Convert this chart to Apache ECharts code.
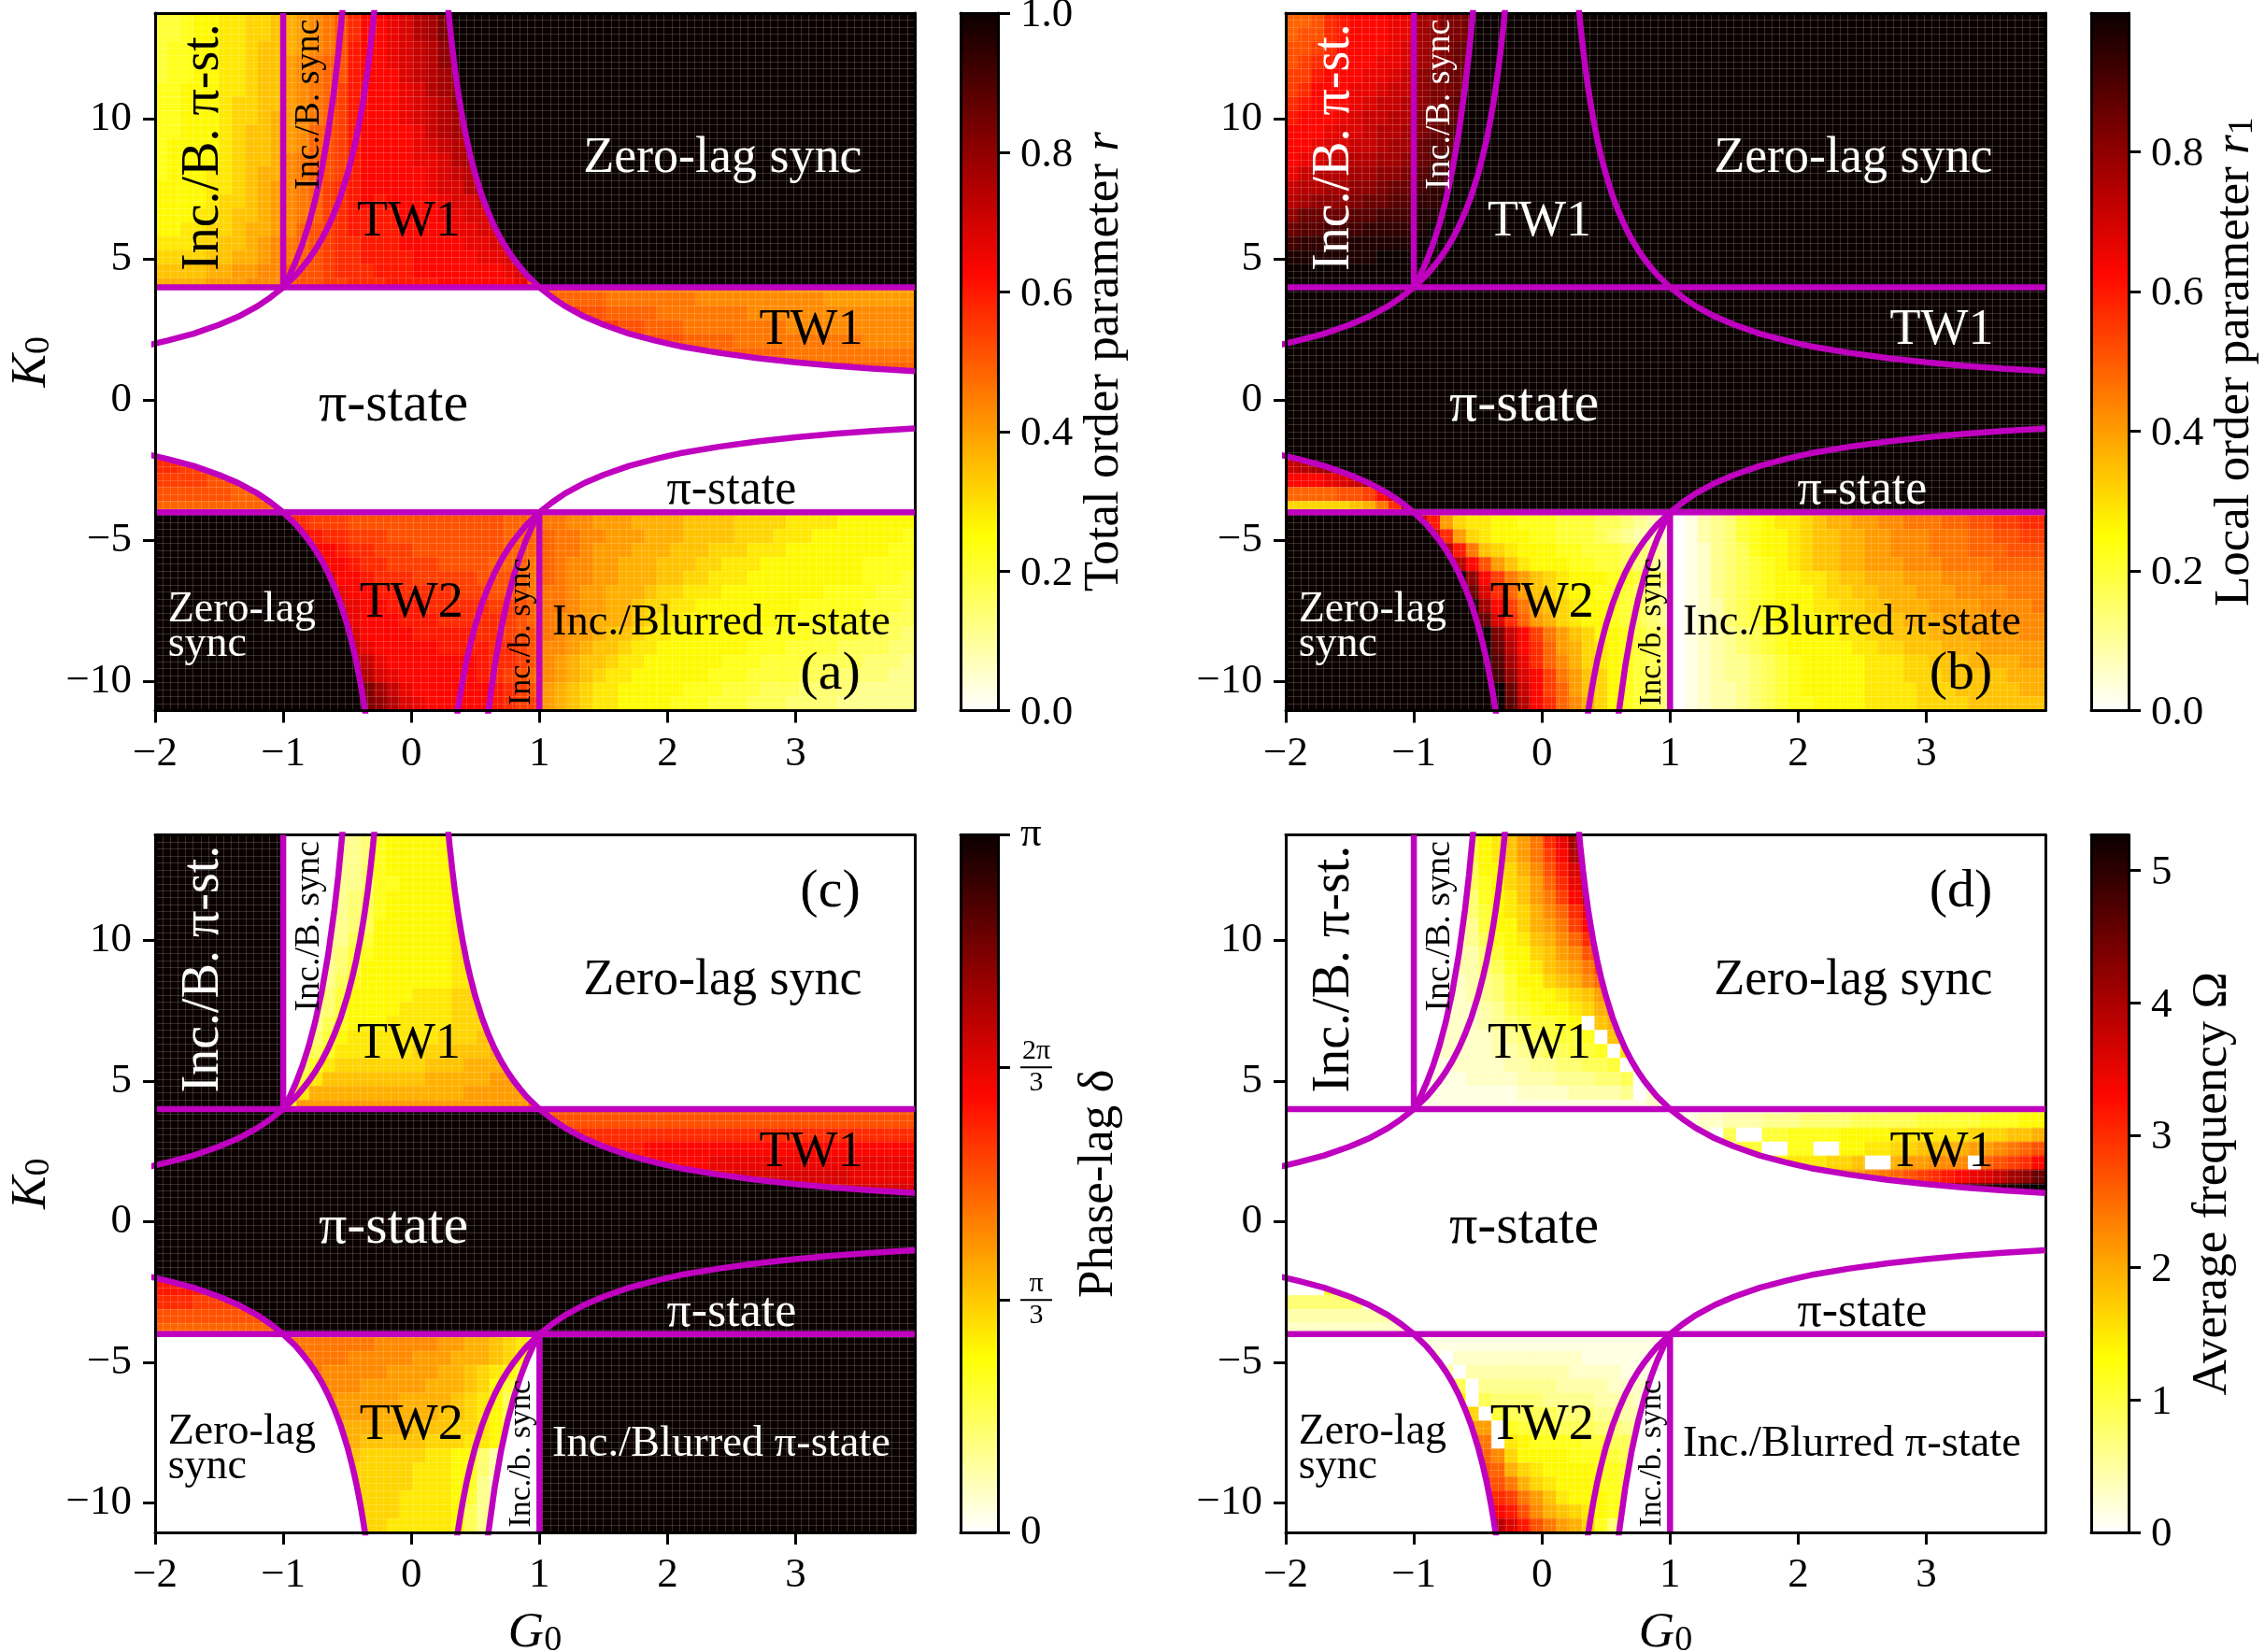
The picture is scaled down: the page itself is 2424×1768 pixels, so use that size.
<!DOCTYPE html>
<html>
<head>
<meta charset="utf-8">
<title>Order parameters</title>
<script src="https://cdn.jsdelivr.net/npm/echarts@6/dist/echarts.min.js"></script>
<style>
html,body{margin:0;padding:0;background:#fff;}
#main{width:2424px;height:1768px;}
</style>
</head>
<body>
<div id="main"></div>
<script>
// axis range and ticks
var gMin=-2,gMax=3.93,kMin=-11.05,kMax=13.75;
var gTicks=[-2,-1,0,1,2,3];
var kTicks=[-10,-5,0,5,10];
var nCols=59,nRows=50;

// phase boundaries
var hyperG=[0.28,0.291,0.3,0.32,0.34,0.362,0.38,0.4,0.43,0.46,0.5,0.55,0.6,0.65,0.7,0.75,0.8,0.85,0.9,1,1.1,1.2,1.35,1.5,1.7,1.9,2,2.1,2.4,2.7,3,3.3,3.6,3.93];
var hyperK=[14.29,13.75,13.33,12.5,11.76,11.05,10.53,10,9.3,8.7,8,7.27,6.67,6.15,5.71,5.33,5,4.71,4.44,4,3.64,3.33,2.96,2.67,2.35,2.11,2,1.9,1.67,1.48,1.33,1.21,1.11,1.02];
var steepG=[0.53,0.54,0.57,0.6,0.65,0.7,0.75,0.8,0.85,0.9,0.95,1];
var steepK=[14.24,13.72,12.31,11.11,9.47,8.16,7.11,6.25,5.54,4.94,4.43,4];

// cell levels, one char per cell: 0-9a-z = 0..35 of the colour scale, '.' = no cell
// panel (a) total order parameter
var topA=[
"77899aabbcdefgikmmnoqrtuuuuuu",
"77899aabbcdefgikmmnoqrtuuuuuu",
"78899aabccdefgilmmnopqstuuuuu",
"78899aabccefghilmmnopqstuuuuu",
"78899aabccefghilmmmopqrtuuuuu",
"88999aabccefghjlmmmnoqrsuuuuu",
"88999abbccefghjlmmmnopqstuuuu",
"88999abbcdefghjlmmmnopqrtuuuu",
"88999abccdefhijlmmmmnpqrsuuuu",
"89999abccdefhijlmmmmnopqrtuuu",
"89999abccdfghijlmmmmnnoqrsuuu",
"8999aabcddfghijlmmmmmnopqrtuu",
"9999aabcdefghjklmmmmmnooqrsuu",
"9999abbcdefghjklmlmmmmnoopqrt",
"999aabccdefghjkllllmmmnnoopqs",
"99aabbcddefhijkllllmmmmnnooqr",
"aaabbccdefghijkklllmmmmmnnopq",
"bbbbccddefghijkkllllmmmmmnnop",
"ccccddeeffhiijkkklllmmmmmmmno",
"ddddeeefffhiijjkkkllllmmmmmmn"];
var rightA=[
"hhhhggggggffffffffffeeeeeeeeee",
"ihhhhhgggggggffffffffffeeeeeee",
"lkkjiihhhhgggggggfffffffffffff",
"mmllkjjiihhhggggggggffffffffff",
"nmmmllkkjiiihhhhggggggggggffff",
"onmmmmmllkkjiiihhhhhgggggggggg",
"mmmmmmmmmmmmllllkkkjjiiiihhhhh"];
var leftA=["kkkkkkkkkk","kkjjjjjjii","jjjjiiiiii","iiiiiihhhh","hhhhhhhhhg"];
var bottomA=[
"kkkjjjiiiiiiiiiiiihhhggffeeeddddccccbbbbaaaa999999",
"mmmlkkjjjiiiiiiiiihhhhggffeeedddccccbbbaaa99999998",
"mmmmmlkkjjjiiiiiiihhhhggfeeedddcccbbbaaa9999999988",
"ooommmlkkjjjjiiiihhhghgffeedddcccbbaaa999999998888",
"pppoommlkkkjjjjjiiihghgffeedddccbbaaa9999999998887",
"qqqppnmmllkkkkjjjiihgggfeedddcbbaaa999999998888777",
"rrrqqonmmlllkkkkkjjihggfeeddcbbaa99999999888887776",
"sssrqpnmmmlllkkkkkjihgffedddcbaa999999998888877766",
"ttsrrqommmmlllllkkjiigfeedccbaa9999999888877776665",
"uuttsqpnmmmmmllllkkjiffedccbaa99999998887777666655",
"vvuutsqpnmmmmmmmlkkjifedccbaa999999888777766665554",
"wwvvutsqonmmmmmmlkjihfedcbaa9999998887777666555544",
"xxwwvuttrpnmmmmmmlkjiedcbaa99999888777666555544444",
"yyxxwvutsqonmmmmmlkjjedcbaa99998887776665555444444"];

// panel (b) local order parameter
var topB=[
"hhiklmmmnnrrttu.",
"hiiklmmmnnrsttu.",
"iijkmmmmnorstuu.",
"ijklmmmnnorstuu.",
"jjlmmmnnopstuuv.",
"jkmmmnnoppsttuv.",
"klmmmnoppqstuvw.",
"lmmmnoppqqtuuvw.",
"mmmnoopqqrtuvww.",
"mmnooppqrruvvwx.",
"mnoppqqrrsuvwxx.",
"npqqqrrsstvwwxy.",
"pqqrrsstuuwxxyy.",
"qrssstuuvvxxyyz.",
"suuuuvvwwwyyyzz.",
"uvvwwwxxxxyzzzz.",
"wxxxxyyyyyzzzzz.",
"yyyyyyyzzzzzzzz.",
"zzzzzzzzzzzzzzz.",
"zzzzzzzzzzzzzzz."];
var rightB=[];
var leftB=["zzzzzzzzzz","pqrstuvxyz","mmmnoprtvy","hhhhiijmpt","bbbbbcdgkr"];
var bottomB=[
"zolebaa9988877766543201345789aabcddeeffggghhiijjkk",
"zzpkeba99988777654332013457899abccddeefffggghhiijj",
"zzzqlgcba999887776543012456899abccddeefffggghhhiii",
"zzzzqmieca9998877654301245678 9abccddeeefffgggghhh",
"zzzzzsmjgecba999887650124567899aabccdddeeefffggggg",
"zzzzzuokhecba99887654012456789 99abbccdddeeeffffggg",
"zzzzzzrmjgdcba998765401235678999aabbccdddeeeeffffg",
"zzzzzzuokhedba99876540123567899 99aabbccdddeeeeffff",
"zzzzzzztpmjgecb998765012345678 9999aabbcccdddeeeeff",
"zzzzzzzuqmkhedba987650123456789 9999aabbcccdddeeeee",
"zzzzzzzvrnkhfdba987650123445678 99999aaabbcccddddee",
"zzzzzzzwsomjgecb987650123445678 99999aaabbbcccccddd",
"zzzzzzzzupmjhecb987650123345678 99999aaaabbbcccccdd",
"zzzzzzzzvqmkhfdb987650123345678 89999aaaabbbbcccccc"].map(function(s){return s.replace(" ","");});

// panel (c) phase lag
var topC=[
"..........4444445899999aaaaaa",
"..........4444445899999aaaaaa",
"..........4444445899999aaaaaa",
"..........4444445889999aaaaaa",
"..........4444456899999aaaaaa",
"..........4444456899999aaaaaa",
"..........4444456999999aaaabb",
"..........4444467999999aaabbb",
"..........4444578999999aaabbb",
"..........4444579999999aaabbb",
"..........4444689999999aaabbb",
"..........4445799999aaabbbbbb",
"..........444579999aaaabbbbbb",
"..........44468999aaaaabbbccc",
"..........44579aaaaaaabbbcccc",
"..........4468aaaaaabbbcccddd",
"..........468abbbbbbbcccdddde",
"..........57accccccccdddddeee",
"..........6addddddddddddeeeee",
"..........8eeeeeeeeeeeeeeeeee"];
var rightC=[
"hhhhhhhhhhhhhhhhhhhhhhhhhhhhhh",
"iiiiiiiiiiiiiiiiiiiiiiiiiiiiii",
"kkkkkkkkkkkkkkkkkkkkkkkkkkkkkk",
"mmmmlllllmmmmmmmmmmmmmmmmmmmmm",
"nnnnnnmmmmmmmmnnnnnnnnnnnnnnnn",
"oooooooooooonnnnooooooooonnnnn",
"oooooooooooooooooooooooooooooo"];
var leftC=["mmmmmmmmmm","llllkkkkkk","kkkjjjjjjj","iiiiiiiiii","hhhhhhhhhh"];
var bottomC=[
"ggggggggfffffeeddcba9.",
"ggggggfffffeeedddcb98.",
"ggggfffffeeeeddcba977.",
"gggffffeeeeedddcb9766.",
"ggfffeeeeeddddcba9655.",
"gffeeeeedddddccba9644.",
"feeedddddddcccbba9533.",
"eedddddcccccbbbaa9533.",
"ddddcccbbbbbaa9953222.",
"dcccccbbbbbaaa9853222.",
"ccccccbbbbbaaa9842222.",
"cccccbbbbbaaaa9742222.",
"ccccbbbbbbaaaa9642222.",
"bbbbbbbbbaaaaa9642222."];

// panel (d) average frequency
var topD=[
"..........555579acegknrzzzzzz",
"..........555579acegjmqzzzzzz",
"..........5555699bdfilouzzzzz",
"..........5555689bcehkntwzzzz",
"..........5555589acegjmqvzzzz",
"..........4444579abdfhkntzzzz",
"..........44444799bdegjmrzzzz",
"..........33334689acdfhkpzzzz",
"..........333335799bcefinszzz",
"..........333335689acdegjmszz",
"..........2222345799bcdfhkqzz",
"..........22223457899abcehlzz",
"..........222223467899abdfjnz",
"..........22222345677890cdhzz",
"..........222222345677780cdzz",
"..........1222223345667780azz",
"..........11122223344556670bz",
"..........111122223334445560b",
"..........1111111122223333402",
"..........1111111111111111112"];
var rightD=[
"111112222233334444555566667788",
"111223334445555666667777788899",
"222206007788889999aaaaaabbbccd",
"4444447700880099aabbccddeefghi",
"9999999999aaabbc00deefff0hijkm",
"eeeeeeeeeeeeeeeefghijklmnoprsu",
"vvvvvvvvvvvvvvvvvvvvvvwwxxyyzz"];
var leftD=["cccccccccc","0008098888","5555550555","3333333333","2222222222"];
var bottomD=[
"111111111111111111111.",
"222022222222221111111.",
"333303333333322221111.",
"666660444444333322211.",
"999990655554444333221.",
"bbbbbb076666555443322.",
"eeeeeee08777666554332.",
"ggggggg0a988887766543.",
"hhhhhhhfb999988876532.",
"iiiiiiihdba9999887632.",
"jjjjjjjigdba999887532.",
"kkkkkkkkjgeca99987432.",
"mmmmmmmmlifdcba986322.",
"qqqqqqqqoligedb853222."];

// colour scale (white, yellow, red, black)
var hotR=['#ffffff','#ffff82','#ffff04','#ffae00','#ff5a00','#ff0700','#b20000','#5e0000','#0b0000'];
var BLACK='#0b0000',WHITE='#ffffff',LINE='#bf00bf',FONT='"Liberation Serif","Times New Roman",serif';

function pairs(xs,ys,sx,sy){
	var out=[];
	for(var i=0;i<xs.length;i++){out.push([sx*xs[i],sy*ys[i]]);}
	return out;
}
// part of a boundary between two |G| values, walked from a to b
function arc(xs,ys,sx,sy,a,b){
	var lo=Math.min(a,b),hi=Math.max(a,b),out=[];
	for(var i=0;i<xs.length;i++){
		if(xs[i]>=lo&&xs[i]<=hi){out.push([sx*xs[i],sy*ys[i]]);}
	}
	return a>b?out.reverse():out;
}
// regions of constant colour, bounded by the curves above
var zeroTop=[[gMax,4]].concat(arc(hyperG,hyperK,1,1,1,0.291),[[gMax,kMax]]);
var zeroBot=[[gMin,-4]].concat(arc(hyperG,hyperK,-1,-1,1,0.362),[[gMin,kMin]]);
var piMain=[[gMin,4]].concat(arc(hyperG,hyperK,1,1,1,3.93),[[gMax,-4]],arc(hyperG,hyperK,-1,-1,1,2));
var incTop=[[gMin,4],[-1,4],[-1,kMax],[gMin,kMax]];
var incBot=[[1,-4],[gMax,-4],[gMax,kMin],[1,kMin]];
var syncTop=arc(steepG,steepK,-1,1,1,0.53).concat([[-1,14.24]]);
var syncBot=arc(steepG,steepK,1,-1,1,0.53).concat([[1,-14.24]]);
var tw1Main=arc(steepG,steepK,-1,1,1,0.53).concat(arc(hyperG,hyperK,1,1,0.28,1));
var tw1Right=[[1,4],[gMax,4]].concat(arc(hyperG,hyperK,1,1,3.93,1));

// text inside the panels: text, G0, K0, size, rotation
var regionLabels=[
	['Inc./B. π-st.',-1.62,8.98,56,90],
	['Inc./B. sync',-0.8,10.5,38,90],
	['Zero-lag sync',2.43,8.56,54,0],
	['TW1',-0.02,6.3,54,0],
	['TW1',3.12,2.45,54,0],
	['π-state',-0.14,-0.22,60,0],
	['π-state',2.5,-3.25,52,0],
	['Zero-lag\nsync',-1.9,-8.1,46,0],
	['TW2',0,-7.25,54,0],
	['Inc./b. sync',0.86,-8.25,34,90],
	['Inc./Blurred π-state',2.42,-7.93,46.5,0]
];
var K='#000',W='#fff';
var panels=[
	{tag:'(a)',tagK:-9.77,left:166,top:14,max:1,cells:[topA,rightA,leftA,bottomA],
	 colors:[K,K,W,K,K,K,K,W,K,K,K],
	 regions:[[zeroTop,BLACK],[zeroBot,BLACK],[piMain,WHITE]],
	 ticks:[0,0.2,0.4,0.6,0.8,1],fmt:function(v){return v.toFixed(1);},
	 title:'Total order parameter {i|r}',titleGap:88,yName:true,xName:false},
	{tag:'(b)',tagK:-9.77,left:1376,top:14,max:0.999,cells:[topB,rightB,leftB,bottomB],
	 colors:[W,W,W,W,W,W,W,W,K,K,K],
	 regions:[[zeroTop,BLACK],[zeroBot,BLACK],[piMain,BLACK],[tw1Main,BLACK],[tw1Right,BLACK]],
	 ticks:[0,0.2,0.4,0.6,0.8],fmt:function(v){return v.toFixed(1);},
	 title:'Local order parameter {i|r}{s|1}',titleGap:88,yName:false,xName:false},
	{tag:'(c)',tagK:11.7,left:166,top:893.5,max:Math.PI,cells:[topC,rightC,leftC,bottomC],
	 colors:[W,K,K,K,K,W,W,K,K,K,W],
	 regions:[[zeroTop,WHITE],[zeroBot,WHITE],[piMain,BLACK],[incTop,BLACK],[incBot,BLACK],[syncTop,WHITE],[syncBot,WHITE]],
	 ticks:[0,Math.PI/3,2*Math.PI/3,Math.PI],fmt:function(v){
		var n=Math.round(v*3/Math.PI);
		return n==0?'0':n==3?'π':n==2?'{n|2π}\n{r| }\n{n|3}':'{n|π}\n{r| }\n{n|3}';
	 },
	 title:'Phase-lag δ',titleGap:82,yName:true,xName:true},
	{tag:'(d)',tagK:11.7,left:1376,top:893.5,max:5.27,cells:[topD,rightD,leftD,bottomD],
	 colors:[K,K,K,K,K,K,K,K,K,K,K],
	 regions:[[zeroTop,WHITE],[zeroBot,WHITE],[piMain,WHITE],[incTop,WHITE],[incBot,WHITE],[syncTop,WHITE],[syncBot,WHITE]],
	 ticks:[0,1,2,3,4,5],fmt:function(v){return String(v);},
	 title:'Average frequency Ω',titleGap:64,yName:false,xName:true}
];
var panelW=813,panelH=746.5,barOffset=862,barW=40;

function minus(v){return String(v).replace('-','\u2212');}
function indices(n){var a=[];for(var i=0;i<n;i++){a.push(i);}return a;}
// turn the char rows into heatmap cells
function decode(cells,maxVal){
	var out=[];
	var starts=[[0,0,30],[19,29,30],[31,0,10],[36,9,50]];
	for(var b=0;b<4;b++){
		var rows=cells[b],r0=starts[b][0],c0=starts[b][1],w=starts[b][2];
		for(var r=0;r<rows.length;r++){
			var line=rows[r].padEnd(w,rows[r].charAt(rows[r].length-1));
			for(var c=0;c<w;c++){
				var ch=line.charAt(c);
				if(ch=='.'){continue;}
				out.push([c0+c,r0+r,parseInt(ch,36)/35*maxVal]);
			}
		}
	}
	return out;
}

var grids=[],xAxes=[],yAxes=[],series=[],visualMaps=[];
var subRich={i:{fontStyle:'italic',fontFamily:FONT,fontSize:53},s:{fontFamily:FONT,fontSize:38,verticalAlign:'bottom',padding:[14,0,0,0]}};

panels.forEach(function(p){
	var g=grids.length;
	grids.push({left:p.left,top:p.top,width:panelW,height:panelH,outerBoundsMode:'none'});
	var xBase=xAxes.length,yBase=yAxes.length;
	// category axes carry the cells
	xAxes.push({type:'category',gridIndex:g,data:indices(nCols),show:false});
	yAxes.push({type:'category',gridIndex:g,data:indices(nRows),inverse:true,show:false});
	// value axes carry the ticks, curves and text
	xAxes.push({type:'value',gridIndex:g,position:'bottom',min:gMin,max:gMax,z:7,
		name:p.xName?'{i|G}{s|0}':'',nameLocation:'middle',nameGap:82,nameTextStyle:{rich:subRich,color:'#000'},
		axisLine:{show:true,onZero:false,lineStyle:{color:'#000',width:3}},
		axisTick:{show:true,customValues:gTicks,length:13,inside:false,lineStyle:{color:'#000',width:3}},
		axisLabel:{customValues:gTicks,formatter:minus,margin:24,color:'#000',fontFamily:FONT,fontSize:45},
		splitLine:{show:false}});
	yAxes.push({type:'value',gridIndex:g,position:'left',min:kMin,max:kMax,z:7,
		name:p.yName?'{i|K}{s|0}':'',nameLocation:'middle',nameRotate:90,nameGap:105,nameTextStyle:{rich:subRich,color:'#000'},
		axisLine:{show:true,onZero:false,lineStyle:{color:'#000',width:3}},
		axisTick:{show:true,customValues:kTicks,length:13,inside:false,lineStyle:{color:'#000',width:3}},
		axisLabel:{customValues:kTicks,formatter:minus,margin:25,padding:[5,0,0,0],color:'#000',fontFamily:FONT,fontSize:45},
		splitLine:{show:false}});
	// faint cell grid, plus the top and right frame
	xAxes.push({type:'value',gridIndex:g,position:'top',min:0,max:100,interval:1,z:4,
		axisLine:{show:true,onZero:false,lineStyle:{color:'#000',width:3}},axisTick:{show:false},axisLabel:{show:false},
		splitLine:{show:true,lineStyle:{color:'rgba(255,255,255,0.17)',width:1}}});
	yAxes.push({type:'value',gridIndex:g,position:'right',min:0,max:100,interval:1,z:4,
		axisLine:{show:true,onZero:false,lineStyle:{color:'#000',width:3}},axisTick:{show:false},axisLabel:{show:false},
		splitLine:{show:true,lineStyle:{color:'rgba(255,255,255,0.17)',width:1}}});

	var cellIndex=series.length;
	series.push({type:'heatmap',xAxisIndex:xBase,yAxisIndex:yBase,z:2,silent:true,
		data:decode(p.cells,p.max),itemStyle:{borderWidth:0},emphasis:{disabled:true},progressive:0});
	series.push({type:'custom',xAxisIndex:xBase+1,yAxisIndex:yBase+1,z:3,silent:true,clip:true,
		data:indices(p.regions.length),
		renderItem:function(params,api){
			var reg=p.regions[params.dataIndex];
			return {type:'polygon',shape:{points:reg[0].map(function(pt){return api.coord(pt);})},style:{fill:reg[1],stroke:null}};
		}});
	var curves=[
		pairs(hyperG,hyperK,-1,1),pairs(hyperG,hyperK,1,1),
		pairs(hyperG,hyperK,-1,-1),pairs(hyperG,hyperK,1,-1),
		pairs(steepG,steepK,-1,1),pairs(steepG,steepK,1,-1),
		[[gMin,4],[gMax,4]],[[gMin,-4],[gMax,-4]],
		[[-1,4],[-1,kMax]],[[1,-4],[1,kMin]]
	];
	curves.forEach(function(c){
		series.push({type:'line',xAxisIndex:xBase+1,yAxisIndex:yBase+1,z:5,silent:true,clip:true,
			data:c,symbol:'none',smooth:false,lineStyle:{color:LINE,width:6.5}});
	});
	// labels in data coordinates
	var labelData=regionLabels.map(function(l,i){
		var left=l[0].indexOf('\n')>=0;
		return {value:[l[1],l[2]],label:{show:true,position:'inside',formatter:l[0],fontSize:l[3],rotate:l[4],color:p.colors[i],
			fontFamily:FONT,align:left?'left':'center',verticalAlign:'middle',lineHeight:left?37:null}};
	});
	labelData.push({value:[3.27,p.tagK],label:{show:true,position:'inside',formatter:p.tag,fontSize:58,color:'#000',fontFamily:FONT,align:'center',verticalAlign:'middle'}});
	series.push({type:'scatter',xAxisIndex:xBase+1,yAxisIndex:yBase+1,z:6,silent:true,symbolSize:0,itemStyle:{opacity:1},data:labelData});

	visualMaps.push({type:'continuous',seriesIndex:cellIndex,min:0,max:p.max,calculable:false,show:true,hoverLink:false,
		left:p.left+barOffset,top:p.top,itemWidth:barW,itemHeight:panelH,padding:0,text:null,inRange:{color:hotR}});

	// colour bar frame and ticks
	var gb=grids.length;
	grids.push({left:p.left+barOffset,top:p.top,width:barW,height:panelH,outerBoundsMode:'none'});
	var frame={show:true,onZero:false,lineStyle:{color:'#000',width:3}};
	xAxes.push({type:'value',gridIndex:gb,position:'bottom',min:0,max:1,z:7,axisLine:frame,axisTick:{show:false},axisLabel:{show:false},splitLine:{show:false}});
	xAxes.push({type:'value',gridIndex:gb,position:'top',min:0,max:1,z:7,axisLine:frame,axisTick:{show:false},axisLabel:{show:false},splitLine:{show:false}});
	yAxes.push({type:'value',gridIndex:gb,position:'left',min:0,max:p.max,z:7,axisLine:frame,axisTick:{show:false},axisLabel:{show:false},splitLine:{show:false}});
	yAxes.push({type:'value',gridIndex:gb,position:'right',min:0,max:p.max,z:7,axisLine:frame,
		name:p.title,nameLocation:'middle',nameRotate:90,nameGap:p.titleGap,
		nameTextStyle:{color:'#000',fontFamily:FONT,fontSize:53,rich:subRich},
		axisTick:{show:true,customValues:p.ticks,length:13,inside:false,lineStyle:{color:'#000',width:3}},
		axisLabel:{customValues:p.ticks,formatter:p.fmt,margin:24,padding:p.tag=='(c)'?0:[5,0,0,0],color:'#000',fontFamily:FONT,fontSize:45,
			verticalAlignMinLabel:'middle',verticalAlignMaxLabel:'middle',
			rich:{n:{fontFamily:FONT,fontSize:30,width:34,align:'center',lineHeight:30},r:{backgroundColor:'#000',width:34,height:2,lineHeight:4,fontSize:2}}},
		splitLine:{show:false}});
});

var myChart=echarts.init(document.getElementById('main'));
var option={
	animation:false,
	backgroundColor:'#fff',
	textStyle:{fontFamily:FONT},
	grid:grids,
	xAxis:xAxes,
	yAxis:yAxes,
	visualMap:visualMaps,
	series:series
};
myChart.setOption(option);
</script>
</body>
</html>
